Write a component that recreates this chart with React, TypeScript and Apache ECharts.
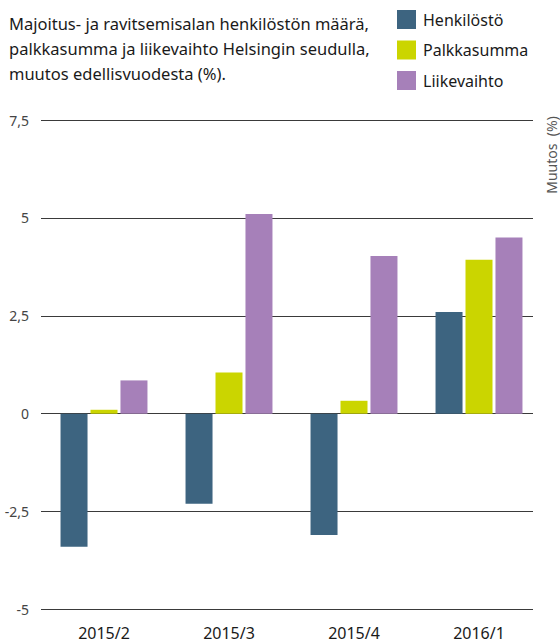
import React, { useEffect, useRef } from "react";
import * as echarts from "echarts";

const categories = ["2015/2", "2015/3", "2015/4", "2016/1"];
const henkilosto = [-3.4, -2.3, -3.1, 2.6];
const palkkasumma = [0.1, 1.05, 0.33, 3.93];
const liikevaihto = [0.85, 5.1, 4.03, 4.5];
const seriesNames = ["Henkilöstö", "Palkkasumma", "Liikevaihto"];
const colors = ["#3d6480", "#cbd500", "#a680b9"];
const titleText =
  "Majoitus- ja ravitsemisalan henkilöstön määrä,\npalkkasumma ja liikevaihto Helsingin seudulla,\nmuutos edellisvuodesta (%).";
const yAxisTitle = "Muutos  (%)";

const FONT = "'Noto Sans', 'Open Sans', sans-serif";

export default function App() {
  const ref = useRef<HTMLDivElement>(null);
  useEffect(() => {
    if (!ref.current) return;
    const chart = echarts.init(ref.current, null, { renderer: "svg" });
    const data = [henkilosto, palkkasumma, liikevaihto];
    chart.setOption({
      animation: false,
      backgroundColor: "#ffffff",
      textStyle: { fontFamily: FONT },
      title: {
        text: titleText,
        left: 4,
        top: 6,
        textStyle: {
          fontFamily: FONT,
          fontSize: 16.5,
          fontWeight: "normal",
          color: "#1a1a1a",
          lineHeight: 25,
        },
      },
      legend: {
        data: seriesNames,
        orient: "vertical",
        left: 397,
        top: 10,
        padding: 0,
        itemWidth: 19,
        itemHeight: 19,
        itemGap: 11.5,
        icon: "rect",
        textStyle: {
          fontFamily: FONT,
          fontSize: 16,
          lineHeight: 19,
          color: "#1a1a1a",
          padding: [0, 0, 0, 2],
        },
      },
      grid: [
        { left: 41, right: 27, top: 120, bottom: 32.5 },
        { left: 41.5, right: 18.5, top: 120, bottom: 32.5 },
      ],
      xAxis: [
        { type: "value", gridIndex: 0, show: false, min: 0, max: 1 },
        {
          type: "category",
          gridIndex: 1,
          data: categories,
          axisLine: { show: false },
          axisTick: { show: false },
          axisLabel: {
            margin: 14,
            fontFamily: FONT,
            fontSize: 16,
            lineHeight: 18,
            color: "#1a1a1a",
          },
        },
      ],
      yAxis: [
        {
          type: "value",
          gridIndex: 0,
          min: -5,
          max: 7.5,
          interval: 2.5,
          axisLine: { show: false },
          axisTick: { show: false },
          axisLabel: {
            margin: 12,
            fontFamily: FONT,
            fontSize: 14,
            color: "#444",
            formatter: (v: number) => String(v).replace(".", ","),
          },
          splitLine: { lineStyle: { color: "#3a3a3a", width: 1 } },
        },
        {
          type: "value",
          gridIndex: 1,
          min: -5,
          max: 7.5,
          interval: 2.5,
          show: false,
          splitLine: { show: false },
        },
      ],
      graphic: [
        {
          type: "text",
          x: 551,
          y: 155,
          rotation: Math.PI / 2,
          style: {
            text: yAxisTitle,
            fontFamily: FONT,
            fontSize: 14,
            fill: "#555",
            align: "center",
            verticalAlign: "middle",
          },
        },
      ],
      series: seriesNames.map((name, i) => ({
        name,
        type: "bar",
        xAxisIndex: 1,
        yAxisIndex: 1,
        data: data[i],
        barWidth: 27,
        barGap: "11%",
        itemStyle: { color: colors[i] },
      })),
    });
    return () => chart.dispose();
  }, []);
  return (
    <div
      ref={ref}
      style={{ position: "fixed", left: 0, top: 0, width: 560, height: 642 }}
    />
  );
}
